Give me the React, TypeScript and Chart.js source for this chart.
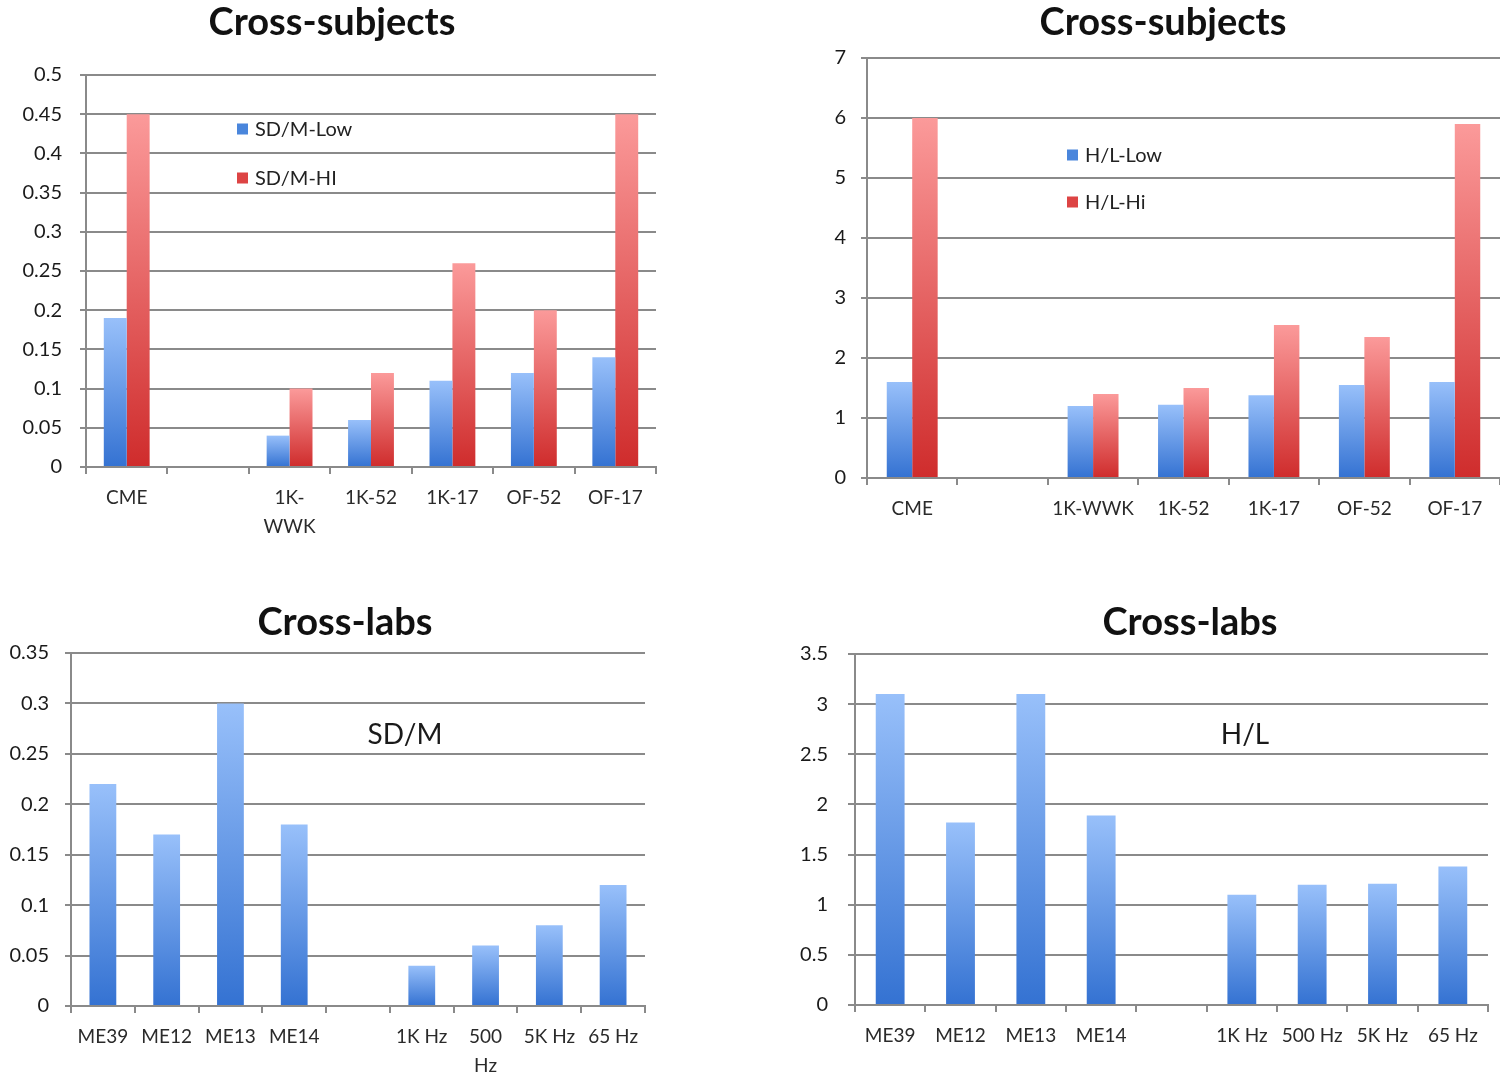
import React, { useEffect, useRef } from "react";
import { Chart, registerables } from "chart.js";

Chart.register(...registerables);

// ---------- data ----------
const subjCategories: (string | string[])[] = ["CME", "", ["1K-", "WWK"], "1K-52", "1K-17", "OF-52", "OF-17"];
const subjCategories2: string[] = ["CME", "", "1K-WWK", "1K-52", "1K-17", "OF-52", "OF-17"];
const sdmLow: (number | null)[] = [0.19, null, 0.04, 0.06, 0.11, 0.12, 0.14];
const sdmHi: (number | null)[] = [0.45, null, 0.1, 0.12, 0.26, 0.2, 0.45];
const hlLow: (number | null)[] = [1.6, null, 1.2, 1.22, 1.38, 1.55, 1.6];
const hlHi: (number | null)[] = [6.0, null, 1.4, 1.5, 2.55, 2.35, 5.9];

const labCategories: (string | string[])[] = ["ME39", "ME12", "ME13", "ME14", "", "1K Hz", ["500", "Hz"], "5K Hz", "65 Hz"];
const labCategories2: string[] = ["ME39", "ME12", "ME13", "ME14", "", "1K Hz", "500 Hz", "5K Hz", "65 Hz"];
const labSdm: (number | null)[] = [0.22, 0.17, 0.3, 0.18, null, 0.04, 0.06, 0.08, 0.12];
const labHl: (number | null)[] = [3.1, 1.82, 3.1, 1.89, null, 1.1, 1.2, 1.21, 1.38];

// ---------- styling ----------
const FONT = "Lato, 'Open Sans', 'DejaVu Sans', sans-serif";
const GRID = "#8a8a8a";
const BLUE_TOP = "#98c0fa";
const BLUE_BOT = "#3472d2";
const RED_TOP = "#fb9a9a";
const RED_BOT = "#cf2c2c";

function gradient(top: string, bottom: string) {
  return (c: any) => {
    const chart = c.chart;
    const y = chart.scales && chart.scales.y;
    if (c.type !== "data" || !y) return bottom;
    const v = c.raw;
    if (v === null || v === undefined) return bottom;
    const p0 = y.getPixelForValue(0);
    const p1 = y.getPixelForValue(v);
    if (!isFinite(p0) || !isFinite(p1) || p0 === p1) return bottom;
    const g = chart.ctx.createLinearGradient(0, p1, 0, p0);
    g.addColorStop(0, top);
    g.addColorStop(1, bottom);
    return g;
  };
}

type LegendItem = { label: string; color: string; y: number };
type Note = { text: string; x: number; y: number };

function overlayPlugin(
  title: { text: string; x: number; y: number },
  legend: { x: number; items: LegendItem[] } | null,
  note: Note | null
) {
  return {
    id: "overlay",
    afterDraw(chart: any) {
      const ctx = chart.ctx;
      ctx.save();
      ctx.font = `bold 38px ${FONT}`;
      ctx.textBaseline = "middle";
      ctx.textAlign = "center";
      ctx.fillStyle = "#111";
      ctx.fillText(title.text, title.x, title.y);
      if (legend) {
        ctx.font = `20px ${FONT}`;
        ctx.textBaseline = "middle";
        ctx.textAlign = "left";
        legend.items.forEach((it) => {
          ctx.fillStyle = it.color;
          ctx.fillRect(legend.x, it.y - 5.5, 11, 11);
          ctx.fillStyle = "#222";
          ctx.fillText(it.label, legend.x + 18, it.y + 1);
        });
      }
      if (note) {
        ctx.font = `28px ${FONT}`;
        ctx.textBaseline = "middle";
        ctx.textAlign = "center";
        ctx.fillStyle = "#1a1a1a";
        ctx.fillText(note.text, note.x, note.y);
      }
      ctx.restore();
    },
  };
}

type Spec = {
  left: number;
  top: number;
  width: number;
  height: number;
  title: { text: string; x: number; y: number };
  padTop: number;
  padRight: number;
  yWidth: number;
  yTick: number;
  yPad: number;
  xHeight: number;
  yMax: number;
  yStep: number;
  labels: (string | string[])[];
  datasets: any[];
  catPct: number;
  legend: { x: number; items: LegendItem[] } | null;
  note: Note | null;
};

function makeConfig(s: Spec): any {
  return {
    type: "bar",
    data: { labels: s.labels, datasets: s.datasets },
    options: {
      animation: false,
      responsive: false,
      maintainAspectRatio: false,
      devicePixelRatio: 1,
      layout: { padding: { left: 0, right: s.padRight, top: s.padTop, bottom: 0 } },
      datasets: { bar: { categoryPercentage: s.catPct, barPercentage: 1.0, borderWidth: 0 } },
      plugins: {
        legend: { display: false },
        tooltip: { enabled: false },
        title: { display: false },
      },
      scales: {
        x: {
          offset: true,
          grid: {
            display: true,
            offset: true,
            drawOnChartArea: false,
            drawTicks: true,
            tickLength: 7,
            color: GRID,
            lineWidth: 2,
          },
          border: { display: true, color: GRID, width: 2 },
          ticks: {
            color: "#2a2a2a",
            font: { family: FONT, size: 19, lineHeight: 1.55 },
            padding: 9,
            maxRotation: 0,
            minRotation: 0,
            autoSkip: false,
          },
          afterFit: (sc: any) => {
            sc.height = s.xHeight;
          },
        },
        y: {
          min: 0,
          max: s.yMax,
          ticks: {
            stepSize: s.yStep,
            color: "#1a1a1a",
            font: { family: FONT, size: 20 },
            padding: s.yPad,
            callback: (v: any) => String(parseFloat(Number(v).toFixed(4))),
          },
          grid: { color: GRID, lineWidth: 2, drawTicks: true, tickLength: s.yTick },
          border: { display: true, color: GRID, width: 2 },
          afterFit: (sc: any) => {
            sc.width = s.yWidth;
          },
        },
      },
    },
    plugins: [overlayPlugin(s.title, s.legend, s.note)],
  };
}

const specs: Spec[] = [
  {
    left: 0,
    top: 0,
    width: 664,
    height: 545,
    title: { text: "Cross-subjects", x: 332, y: 23 },
    padTop: 75,
    padRight: 8,
    yWidth: 86,
    yTick: 6,
    yPad: 18,
    xHeight: 78,
    yMax: 0.5,
    yStep: 0.05,
    labels: subjCategories,
    catPct: 0.563,
    datasets: [
      { label: "SD/M-Low", data: sdmLow, backgroundColor: gradient(BLUE_TOP, BLUE_BOT) },
      { label: "SD/M-HI", data: sdmHi, backgroundColor: gradient(RED_TOP, RED_BOT) },
    ],
    legend: {
      x: 237,
      items: [
        { label: "SD/M-Low", color: "#4a86dc", y: 129 },
        { label: "SD/M-HI", color: "#dd4444", y: 178 },
      ],
    },
    note: null,
  },
  {
    left: 826,
    top: 0,
    width: 674,
    height: 545,
    title: { text: "Cross-subjects", x: 337, y: 23 },
    padTop: 58,
    padRight: 0,
    yWidth: 41,
    yTick: 6,
    yPad: 15,
    xHeight: 67,
    yMax: 7,
    yStep: 1,
    labels: subjCategories2,
    catPct: 0.563,
    datasets: [
      { label: "H/L-Low", data: hlLow, backgroundColor: gradient(BLUE_TOP, BLUE_BOT) },
      { label: "H/L-Hi", data: hlHi, backgroundColor: gradient(RED_TOP, RED_BOT) },
    ],
    legend: {
      x: 241,
      items: [
        { label: "H/L-Low", color: "#4a86dc", y: 155 },
        { label: "H/L-Hi", color: "#dd4444", y: 202 },
      ],
    },
    note: null,
  },
  {
    left: 0,
    top: 580,
    width: 690,
    height: 501,
    title: { text: "Cross-labs", x: 345, y: 43 },
    padTop: 73,
    padRight: 45,
    yWidth: 71,
    yTick: 6,
    yPad: 16,
    xHeight: 75,
    yMax: 0.35,
    yStep: 0.05,
    labels: labCategories,
    catPct: 0.42,
    datasets: [{ label: "SD/M", data: labSdm, backgroundColor: gradient(BLUE_TOP, BLUE_BOT) }],
    legend: null,
    note: { text: "SD/M", x: 405, y: 155 },
  },
  {
    left: 780,
    top: 580,
    width: 720,
    height: 501,
    title: { text: "Cross-labs", x: 410, y: 43 },
    padTop: 74,
    padRight: 12,
    yWidth: 75,
    yTick: 7,
    yPad: 20,
    xHeight: 76,
    yMax: 3.5,
    yStep: 0.5,
    labels: labCategories2,
    catPct: 0.41,
    datasets: [{ label: "H/L", data: labHl, backgroundColor: gradient(BLUE_TOP, BLUE_BOT) }],
    legend: null,
    note: { text: "H/L", x: 465, y: 155 },
  },
];

function ChartBox({ spec }: { spec: Spec }) {
  const ref = useRef<HTMLCanvasElement | null>(null);
  useEffect(() => {
    if (!ref.current) return;
    const chart = new Chart(ref.current, makeConfig(spec));
    return () => chart.destroy();
  }, [spec]);
  return (
    <div
      style={{
        position: "absolute",
        left: spec.left,
        top: spec.top,
        width: spec.width,
        height: spec.height,
      }}
    >
      <canvas ref={ref} width={spec.width} height={spec.height} style={{ width: spec.width, height: spec.height, display: "block" }} />
    </div>
  );
}

export default function App() {
  return (
    <div
      style={{
        position: "absolute",
        left: 0,
        top: 0,
        width: 1500,
        height: 1081,
        overflow: "hidden",
        background: "#ffffff",
      }}
    >
      {specs.map((s, i) => (
        <ChartBox key={i} spec={s} />
      ))}
    </div>
  );
}
